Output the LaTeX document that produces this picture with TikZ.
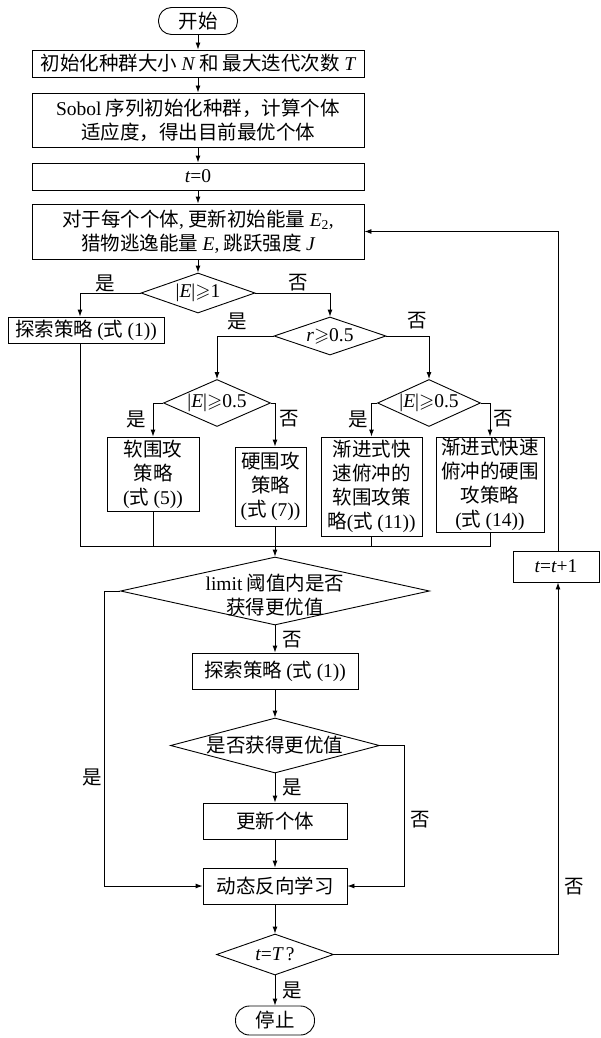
\documentclass[tikz,border=0pt]{standalone}
\usepackage{fontspec}
\usepackage{amssymb}
\setmainfont{Noto Sans CJK SC}
\newfontfamily\tmsfont{Liberation Serif}
\newcommand{\lat}[1]{{\tmsfont #1}}
\newcommand{\ital}[1]{{\tmsfont\itshape #1}}
\usetikzlibrary{shapes.geometric,arrows.meta,calc}
\begin{document}
\begin{tikzpicture}[x=1pt,y=-1pt,
  every node/.style={font=\fontsize{19.5}{24}\selectfont},
  box/.style={draw, line width=0.9pt, inner sep=0pt, align=center},
  dia/.style={draw, diamond, line width=0.9pt, inner sep=0pt},
  term/.style={draw, line width=0.9pt, rounded corners=13pt, inner sep=0pt},
  txt/.style={inner sep=0pt, align=center},
  lbl/.style={inner sep=0pt},
  arr/.style={-{Latex[length=7pt,width=5pt]}, line width=0.9pt},
  ln/.style={line width=0.9pt}]
\useasboundingbox (0,0) rectangle (600,1038);

% top column
\node[term, minimum width=79pt, minimum height=27pt] (start) at (198,21) {开始};
\node[box, minimum width=332pt, minimum height=27pt] (init) at (198,63.5)
  {初始化种群大小 \ital{N} 和 最大迭代次数 \ital{T}};
\node[box, minimum width=332pt, minimum height=54pt] (sobol) at (198,120)
  {\lat{Sobol} 序列初始化种群，计算个体\\适应度，得出目前最优个体};
\node[box, minimum width=332pt, minimum height=27pt] (t0) at (198,176.5)
  {\ital{t}\lat{=0}};
\node[box, minimum width=332pt, minimum height=55pt] (upd) at (198,231.5)
  {对于每个个体\lat{,} 更新初始能量 \ital{E}\lat{\textsubscript{2},}\\猎物逃逸能量 \ital{E}\lat{,} 跳跃强度 \ital{J}};

\node[dia, minimum width=114pt, minimum height=40pt] (d1) at (198,293) {};
\node[txt] (d1t) at (d1.center) {\lat{|}\ital{E}\lat{|}$\geqslant$\lat{1}};

\node[box, minimum width=156pt, minimum height=26pt] (ex1) at (86,330)
  {探索策略 \lat{(}式 \lat{(1))}};

\node[dia, minimum width=112pt, minimum height=38pt] (d2) at (330,336) {};
\node[txt] (d2t) at (d2.center) {\ital{r}$\geqslant$\lat{0.5}};

\node[dia, minimum width=107pt, minimum height=47pt] (d3) at (217,403) {};
\node[txt] (d3t) at (d3.center) {\lat{|}\ital{E}\lat{|}$\geqslant$\lat{0.5}};
\node[dia, minimum width=103pt, minimum height=47pt] (d4) at (429,403) {};
\node[txt] (d4t) at (d4.center) {\lat{|}\ital{E}\lat{|}$\geqslant$\lat{0.5}};

\node[box, minimum width=92pt, minimum height=74pt] (soft) at (153,474)
  {软围攻\\策略\\\lat{(}式 \lat{(5))}};
\node[box, minimum width=71pt, minimum height=79pt] (hard) at (270.5,486.5)
  {硬围攻\\策略\\\lat{(}式 \lat{(7))}};
\node[box, minimum width=101pt, minimum height=99pt] (jj1) at (371.5,486.5)
  {渐进式快\\速俯冲的\\软围攻策\\略\lat{(}式 \lat{(11))}};
\node[box, minimum width=108pt, minimum height=95pt] (jj2) at (490,484.5)
  {渐进式快速\\俯冲的硬围\\攻策略\\\lat{(}式 \lat{(14))}};

\coordinate (m) at (275,546);

% lower column
\node[dia, minimum width=309pt, minimum height=68pt] (d5) at (275,591) {};
\node[txt] (d5t) at (275,595) {\lat{limit} 阈值内是否\\获得更优值};
\node[box, minimum width=166pt, minimum height=36pt] (ex2) at (275,671)
  {探索策略 \lat{(}式 \lat{(1))}};
\node[dia, minimum width=209pt, minimum height=55pt] (d6) at (275,745.5) {};
\node[txt] (d6t) at (d6.center) {是否获得更优值};
\node[box, minimum width=144pt, minimum height=36pt] (upd2) at (275,821) {更新个体};
\node[box, minimum width=144pt, minimum height=36pt] (dyn) at (275,886) {动态反向学习};
\node[dia, minimum width=117pt, minimum height=41pt] (d7) at (275,954.5) {};
\node[txt] (d7t) at (d7.center) {\ital{t}\lat{=}\ital{T}\,\lat{?}};
\node[term, minimum width=79pt, minimum height=29pt, rounded corners=14pt] (stop) at (275,1020.5) {停止};

\node[box, minimum width=86pt, minimum height=31pt] (t1) at (556,566.5)
  {\ital{t}\lat{=}\ital{t}\lat{+1}};

% labels
\node[lbl] (l1) at (105,283) {是};
\node[lbl] (l2) at (298,283) {否};
\node[lbl] (l3) at (237,321) {是};
\node[lbl] (l4) at (417,321) {否};
\node[lbl] (l5) at (136,419) {是};
\node[lbl] (l6) at (289,419) {否};
\node[lbl] (l7) at (358,419) {是};
\node[lbl] (l8) at (503,419) {否};
\node[lbl] (l9) at (92,777) {是};
\node[lbl] (l10) at (292,640) {否};
\node[lbl] (l11) at (292,787) {是};
\node[lbl] (l12) at (420,820) {否};
\node[lbl] (l13) at (574,887) {否};
\node[lbl] (l14) at (292,990) {是};

% connectors
\draw[arr] (start) -- (init);
\draw[arr] (init) -- (sobol);
\draw[arr] (sobol) -- (t0);
\draw[arr] (t0) -- (upd);
\draw[arr] (upd) -- (d1);
\draw[arr] (d1.west) -| ([xshift=-6pt]ex1.north);
\draw[arr] (d1.east) -| (d2.north);
\draw[arr] (d2.west) -| (d3.north);
\draw[arr] (d2.east) -| (d4.north);
\draw[arr] (d3.west) -| (soft.north);
\draw[arr] (d3.east) -| ([xshift=4.5pt]hard.north);
\draw[arr] (d4.west) -| (jj1.north);
\draw[arr] (d4.east) -| (jj2.north);
\draw[ln] ([xshift=-6pt]ex1.south) |- (jj2.south |- m) -- (jj2.south);
\draw[ln] (soft.south) -- (soft.south |- m);
\draw[ln] (jj1.south) -- (jj1.south |- m);
\draw[arr] (hard.south -| m) -- (d5.north);
\draw[arr] (d5.west) -- ++(-16,0) |- (dyn.west);
\draw[arr] (d5) -- (ex2);
\draw[arr] (ex2) -- (d6);
\draw[arr] (d6.east) -- ++(24,0) |- (dyn.east);
\draw[arr] (d6) -- (upd2);
\draw[arr] (upd2) -- (dyn);
\draw[arr] (dyn) -- (d7);
\draw[arr] (d7) -- (stop);
\draw[arr] (d7.east) -| ([xshift=2pt]t1.south);
\draw[arr] ([xshift=2pt]t1.north) |- (upd.east);
\end{tikzpicture}
\end{document}
